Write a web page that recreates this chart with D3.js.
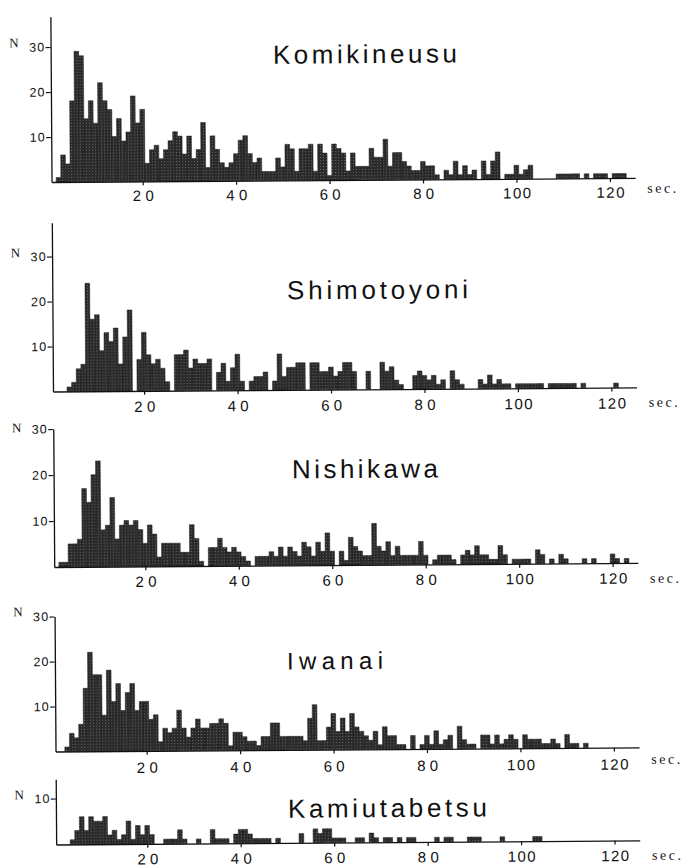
<!DOCTYPE html>
<html><head><meta charset="utf-8">
<script src="https://cdn.jsdelivr.net/npm/d3@7"></script>
<style>
html,body{margin:0;padding:0;background:#fff;}
svg{display:block;}
</style></head><body>
<svg id="chart" width="683" height="866"></svg>
<script>
// ---------- data (counts per 1-second bin, first bin = startSec) ----------
const startSec = 2;
const komikineusu = [1,6,4,18,29,28,14,18,13,22,18,16,10,14,9,11,19,13,16,
 4,7,8,5,7,9,11,10,6,10,5,7,13,3,10,7,4,3,4,6,
 9,10,6,4,5,2,2,2,5,3,8,7,2,7,7,8,2,8,6,1,
 8,7,6,2,6,3,3,3,7,5,5,9,3,6,6,4,3,2,2,4,
 3,3,1,0,2,1,4,1,3,1,2,0,4,1,4,6,0,1,1,3,
 1,2,3,0,0,0,0,0,1,1,1,1,1,0,1,0,1,1,1,0,
 1,1,1];
const shimotoyoni = [0,0,1,2,5,6,24,16,17,9,13,11,14,6,12,18,0,7,13,
 8,6,7,5,2,0,8,8,9,5,7,6,6,7,0,4,6,2,5,8,
 2,0,2,3,3,4,0,2,8,3,5,5,6,6,0,6,6,4,4,5,
 3,4,6,6,4,0,0,4,0,0,6,4,5,2,1,0,0,3,4,3,
 2,3,1,2,0,4,2,1,0,0,0,2,1,3,1,2,1,1,0,1,
 1,1,1,1,1,0,1,1,1,1,1,1,0,1,0,0,0,0,0,0,
 1];
const nishikawa = [1,1,5,5,6,17,14,20,23,8,9,15,6,9,10,9,10,8,5,
 9,7,2,5,5,5,5,3,3,9,6,1,0,4,4,6,4,3,4,3,
 2,1,0,2,2,2,3,2,4,2,4,3,2,5,4,2,5,3,7,3,
 0,3,1,6,4,3,2,2,9,4,3,5,2,4,2,2,2,2,5,2,
 0,1,2,2,2,1,0,2,3,2,4,2,2,1,1,4,2,0,1,1,
 1,1,0,3,2,0,1,0,2,1,0,0,0,1,0,1,0,0,0,2,
 1,0,1];
const iwanai = [0,1,4,3,6,14,22,17,17,8,18,11,15,9,13,15,9,11,11,
 7,8,2,5,4,5,9,5,3,5,7,5,5,6,6,7,6,1,4,4,
 3,2,2,1,3,3,6,6,3,3,3,3,3,2,7,10,2,2,5,8,
 4,7,4,8,5,4,3,2,4,1,5,3,3,1,1,0,3,0,1,3,
 1,4,1,2,3,0,5,2,1,1,0,3,3,1,3,1,2,3,2,0,
 3,2,2,2,1,1,2,1,0,3,1,1,0,1];
const kamiutabetsu = [0,0,1,3,6,3,6,5,5,6,2,3,1,2,5,1,4,2,4,
 2,0,0,1,1,1,3,1,0,0,1,0,0,3,1,1,1,0,2,3,
 3,2,1,1,1,1,0,1,0,0,0,0,2,0,0,3,2,3,3,1,
 1,1,0,0,1,1,0,2,1,0,1,1,0,1,0,1,1,0,0,0,
 0,1,0,1,1,0,0,0,1,1,1,0,0,0,0,1,0,0,0,0,
 0,0,1,1];

const stations = ["Komikineusu","Shimotoyoni","Nishikawa","Iwanai","Kamiutabetsu"];
const series = [komikineusu, shimotoyoni, nishikawa, iwanai, kamiutabetsu];
const xTickValues = [20,40,60,80,100,120];
const xTickLabels = ["20","40","60","80","100","120"];
const yTickSets = [[10,20,30],[10,20,30],[10,20,30],[10,20,30],[10]];
const yAxisMax = [36.7, 37.5, 30, 30, 14.2];
const xDomain = [0.5, 125.4];
const unitLabel = "sec.";
const countLabel = "N";

// ---------- layout (positions / sizes only) ----------
const layout = [
  {base:180,   unit:4.5,  title:[275.6,63.2,184,26],  n:45,  lab:19.6, sec:15},
  {base:389.5, unit:4.5,  title:[288,299,181,26],     n:255, lab:21,   sec:19.5},
  {base:565,   unit:4.6,  title:[291.7,478,146,26],   n:430, lab:20.5, sec:20},
  {base:749.5, unit:4.5,  title:[285.4,669,96,24],    n:614, lab:22,   sec:16.5},
  {base:842.5, unit:4.6,  title:[285.3,817.3,199,26], n:797, lab:20.5, sec:19.5}
];

const svg = d3.select("#chart");
const defs = svg.append("defs");
const pat = defs.append("pattern").attr("id","ht").attr("width",3).attr("height",3)
  .attr("patternUnits","userSpaceOnUse");
pat.append("rect").attr("width",3).attr("height",3).attr("fill","#2a2a2a");
pat.append("rect").attr("x",1).attr("y",1).attr("width",1).attr("height",1).attr("fill","#6e6e6e");

const root = svg.append("g").attr("transform","rotate(-0.4 341 433)");
const x = d3.scaleLinear().domain(xDomain).range([53.3, 636.9]);

series.forEach((vals, k) => {
  const L = layout[k];
  const y = d3.scaleLinear().domain([0, yAxisMax[k]])
    .range([L.base, L.base - yAxisMax[k]*L.unit]);
  const g = root.append("g");
  const bins = vals.map((v,i)=>({t:startSec+i, v})).filter(d=>d.v>0);
  g.selectAll("rect.bar").data(bins).join("rect").attr("class","bar")
    .attr("x", d=>x(d.t-0.5))
    .attr("width", d=>x(d.t+0.5)-x(d.t-0.5))
    .attr("y", d=>y(d.v))
    .attr("height", d=>L.base - y(d.v))
    .attr("fill","url(#ht)")
    .attr("stroke","#1a1a1a").attr("stroke-width",0.5);

  // x axis
  const xa = g.append("g").attr("transform",`translate(0,${L.base})`)
    .call(d3.axisBottom(x).tickValues(xTickValues).tickSize(4).tickSizeOuter(0)
      .tickFormat((d,i)=>xTickLabels[i]));
  xa.select(".domain").attr("stroke","#111").attr("stroke-width",1.3);
  xa.selectAll(".tick line").attr("stroke","#111").attr("stroke-width",1.2);
  xa.selectAll(".tick text").attr("y", L.lab).attr("dy", null)
    .attr("font-family","'Liberation Sans', Arial, sans-serif").attr("font-size",15)
    .attr("fill","#111")
    .attr("textLength", (d)=> d>=100 ? 28 : 21).attr("lengthAdjust","spacing");

  // y axis
  const ya = g.append("g").attr("transform",`translate(${x(xDomain[0])},0)`)
    .call(d3.axisLeft(y).tickValues(yTickSets[k]).tickSize(5).tickSizeOuter(0).tickPadding(1.5));
  ya.select(".domain").attr("stroke","#111").attr("stroke-width",1.3);
  ya.selectAll(".tick line").attr("stroke","#111").attr("stroke-width",1.2);
  ya.selectAll(".tick text")
    .attr("font-family","'Liberation Sans', Arial, sans-serif").attr("font-size",12.5)
    .attr("fill","#111").attr("textLength",15).attr("lengthAdjust","spacing");

  // N label
  g.append("text").attr("x",12).attr("y",L.n).text(countLabel)
    .attr("font-family","'Liberation Serif', 'Times New Roman', serif").attr("font-size",13)
    .attr("fill","#111");

  // sec. label
  g.append("text").attr("x",649).attr("y",L.base + L.sec).text(unitLabel)
    .attr("font-family","'Liberation Serif', 'Times New Roman', serif").attr("font-size",14)
    .attr("fill","#111").attr("textLength",29).attr("lengthAdjust","spacing");

  // station title
  const T = L.title;
  g.append("text").attr("x",T[0]).attr("y",T[1]).text(stations[k])
    .attr("font-family","'Liberation Sans', Arial, sans-serif").attr("font-size",T[3])
    .attr("fill","#111").attr("textLength",T[2]).attr("lengthAdjust","spacing");
});
</script>
</body></html>
